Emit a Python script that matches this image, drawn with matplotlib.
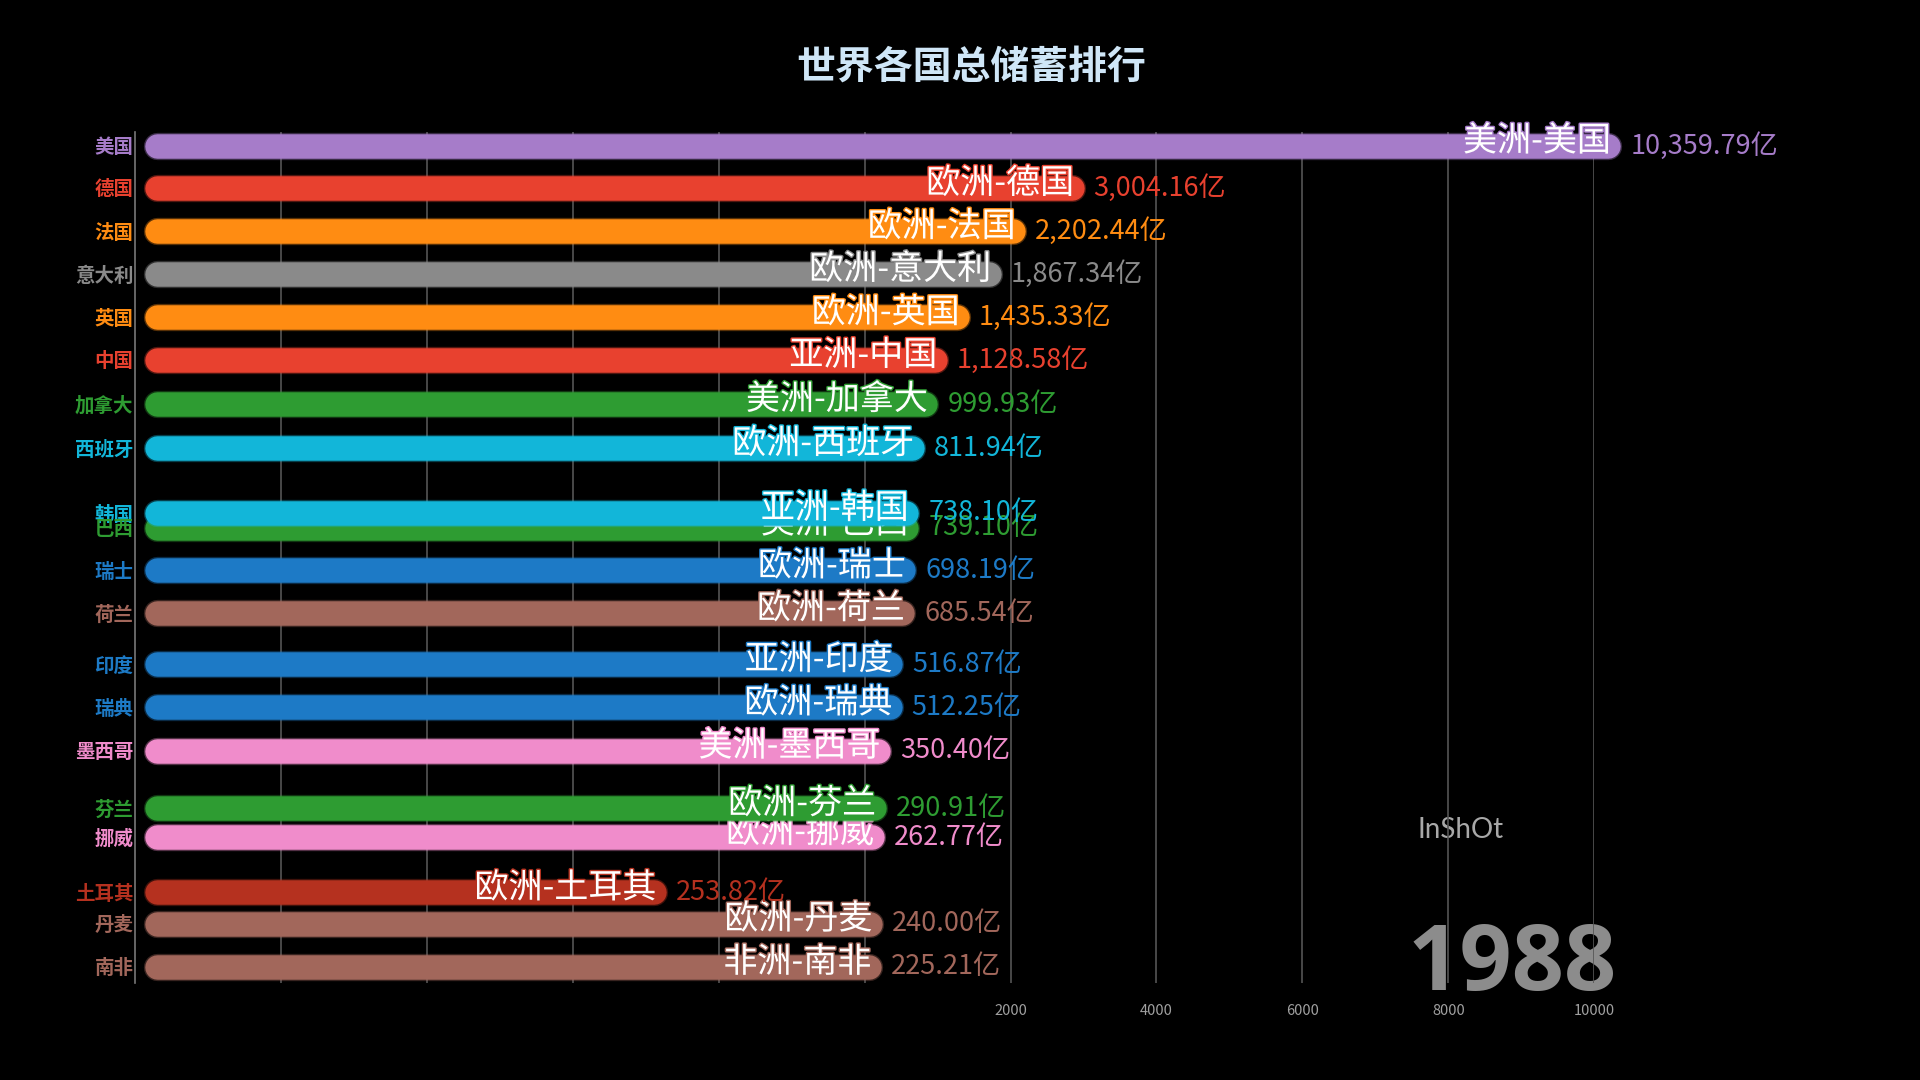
import matplotlib.pyplot as plt
import matplotlib.patheffects as pe
import numpy as np

plt.rcParams['font.family'] = ['Noto Sans CJK SC', 'DejaVu Sans']

# data for the 1988 frame (units: 亿)
countries = ['美国', '德国', '法国', '意大利', '英国', '中国', '加拿大', '西班牙',
             '韩国', '巴西', '瑞士', '荷兰', '印度', '瑞典', '墨西哥', '芬兰',
             '挪威', '土耳其', '丹麦', '南非']
continents = ['美洲', '欧洲', '欧洲', '欧洲', '欧洲', '亚洲', '美洲', '欧洲',
              '亚洲', '美洲', '欧洲', '欧洲', '亚洲', '欧洲', '美洲', '欧洲',
              '欧洲', '欧洲', '欧洲', '非洲']
values = [10359.79, 3004.16, 2202.44, 1867.34, 1435.33, 1128.58, 999.93, 811.94,
          738.10, 739.10, 698.19, 685.54, 516.87, 512.25, 350.40, 290.91,
          262.77, 253.82, 240.00, 225.21]
# where each bar has got to in the animation (Turkey is still growing in)
shown = [10359.79, 3004.16, 2202.44, 1867.34, 1435.33, 1128.58, 999.93, 811.94,
         738.10, 739.10, 698.19, 685.54, 516.87, 512.25, 350.40, 290.91,
         262.77, -2720.0, 240.00, 225.21]
# row position while the ranks are moving
ranks = [0, 0.98, 1.98, 2.97, 3.97, 4.96, 5.98, 7.0,
         8.5, 8.84, 9.83, 10.82, 12.0, 13.0, 14.0, 15.33,
         16.0, 17.28, 18.0, 19.0]
colors = ['#a67cc9', '#e8412f', '#ff8c12', '#8a8a8a', '#ff8c12', '#e8412f', '#2e9c32', '#12b6d9',
          '#12b6d9', '#2e9c32', '#1d7ac6', '#a2675b', '#1d7ac6', '#1d7ac6', '#f08ccb', '#2e9c32',
          '#f08ccb', '#b5311f', '#a2675b', '#a2675b']
xticks = np.arange(-8000, 10001, 2000)
year = '1988'

fig = plt.figure(figsize=(19.2, 10.8), dpi=100, facecolor='black')
ax = fig.add_axes([0.0702, 0.0896, 0.7602, 0.788])
ax.set_facecolor('black')

xmin, xmax = -10000, 10000
ax.set_xlim(xmin, xmax)
ax.set_ylim(19.38, -0.31)

# bar thickness and rounded-cap radius in data units
bar_px = 24.5
lw = bar_px * 72 / 100
px_per_unit = ax.get_position().width * 1920 / (xmax - xmin)
r = bar_px / 2 / px_per_unit
start = xmin + 10 / px_per_unit

for i in reversed(range(len(countries))):
    z = 10 + (len(countries) - i) * 3
    c = colors[i]
    ax.plot([start + r, shown[i] - r], [ranks[i], ranks[i]], color=c, lw=lw,
            solid_capstyle='round', zorder=z, clip_on=False,
            path_effects=[pe.Stroke(linewidth=lw + 2, foreground=c, alpha=0.35), pe.Normal()])
    ax.annotate(f'{continents[i]}-{countries[i]}', xy=(shown[i], ranks[i]),
                xytext=(-7, 3), textcoords='offset points', ha='right', va='center',
                color='white', fontsize=24.5, fontweight='medium', zorder=z + 1,
                annotation_clip=False,
                path_effects=[pe.withStroke(linewidth=2, foreground=c)])
    ax.annotate(f'{values[i]:,.2f}亿', xy=(shown[i], ranks[i]),
                xytext=(7, 0), textcoords='offset points', ha='left', va='center',
                color=c, fontsize=19.5, zorder=z + 1, annotation_clip=False)

ax.set_yticks(ranks, countries)
for lbl, c in zip(ax.get_yticklabels(), colors):
    lbl.set_color(c)
    lbl.set_fontsize(14)
    lbl.set_fontweight('bold')
ax.tick_params(axis='y', length=0, pad=1)

ax.set_xticks(xticks, [str(t) if t > 0 else '' for t in xticks])
ax.tick_params(axis='x', length=0, pad=15, labelsize=10.5, labelcolor='#a0a0a0')
ax.grid(axis='x', color='#555555', lw=1.2)
ax.set_axisbelow(True)

for s in ['top', 'right', 'bottom']:
    ax.spines[s].set_visible(False)
ax.spines['left'].set_color('#777777')
ax.spines['left'].set_linewidth(1.2)

ax.text(1.015, -0.008, year, transform=ax.transAxes, ha='right', va='baseline',
        fontsize=66, fontweight='bold', color='#8c8c8c', family='Open Sans',
        zorder=0.2, clip_on=False)
ax.text(0.9086, 0.18, 'InShOt', transform=ax.transAxes, ha='center', va='center',
        fontsize=20, color='#a8a8a8', family='Lato', zorder=0.2)

fig.text(0.5057, 0.9376, '世界各国总储蓄排行', ha='center', va='center',
         fontsize=28, fontweight='bold', color='#cfe6f7')

fig.savefig('out.png', dpi=100, facecolor='black')
